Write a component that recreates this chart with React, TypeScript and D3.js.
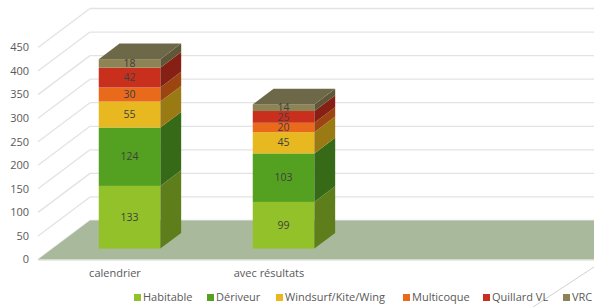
import * as d3 from "d3";

const categories = ["calendrier", "avec résultats"];
const seriesNames = ["Habitable", "Dériveur", "Windsurf/Kite/Wing", "Multicoque", "Quillard VL", "VRC"];
const habitable = [133, 99];
const deriveur = [124, 103];
const windsurf = [55, 45];
const multicoque = [30, 20];
const quillard = [42, 25];
const vrc = [18, 14];
const yTicks = [0, 50, 100, 150, 200, 250, 300, 350, 400, 450];

const FRONT = ["#92c12a", "#54a021", "#e8b820", "#e96a1a", "#c8301d", "#8e8355"];
const SIDE = ["#5e7e1b", "#366a16", "#9a7a13", "#9c4511", "#872014", "#5f5838"];
const TOP_VRC = "#6d6948";

const W = 594;
const H = 307;
const DX = 52; // depth of the floor, in px
const DY = 39;
const Z0 = 0.28; // bar front depth
const Z1 = 0.68; // bar back depth
const FONT = "'Open Sans', sans-serif";
const TEXT = "#595959";

export default function App() {
  const values = [habitable, deriveur, windsurf, multicoque, quillard, vrc];
  const rows = categories.map((c, i) => {
    const r: Record<string, any> = { cat: c };
    seriesNames.forEach((s, k) => (r[s] = values[k][i]));
    return r;
  });
  const stacked = d3.stack<any>().keys(seriesNames)(rows);

  const x = d3
    .scaleBand()
    .domain(categories)
    .range([38, 38 + 154 * categories.length])
    .paddingInner(0.6)
    .paddingOuter(0.3);
  const y = d3.scaleLinear().domain([0, 450]).range([259.5, 47.5]);

  const bw = x.bandwidth();
  const bdx = (Z1 - Z0) * DX;
  const bdy = (Z1 - Z0) * DY;
  const left = 38;
  const backLeft = left + DX;

  const pts = (p: number[][]) => p.map((q) => q.join(",")).join(" ");

  const legendX = [134, 207, 276, 403, 483, 563];

  return (
    <svg
      width={W}
      height={H}
      style={{ position: "absolute", left: 0, top: 0, background: "#fff" }}
      fontFamily={FONT}
    >
      {/* back wall + side wall grid */}
      {yTicks.map((t) => (
        <g key={t}>
          <line x1={backLeft} x2={W + 10} y1={y(t) - DY} y2={y(t) - DY} stroke="#e3e3e3" strokeWidth={1.3} />
          <line x1={left} x2={backLeft} y1={y(t)} y2={y(t) - DY} stroke="#e3e3e3" strokeWidth={1.3} />
        </g>
      ))}

      {/* floor */}
      <polygon
        points={pts([
          [left, y(0)],
          [backLeft, y(0) - DY],
          [W + 10, y(0) - DY],
          [W + 10, y(0)],
        ])}
        fill="#a9b99b"
      />
      <line x1={left} x2={W + 10} y1={y(0) + 1} y2={y(0) + 1} stroke="#e8ece4" strokeWidth={1} />

      {/* bars */}
      {categories.map((c, i) => {
        const x0 = x(c)! + Z0 * DX;
        const x1 = x0 + bw;
        return (
          <g key={c}>
            {stacked.map((s, k) => {
              const d = s[i];
              const yb = y(d[0]) - Z0 * DY;
              const yt = y(d[1]) - Z0 * DY;
              return (
                <g key={s.key}>
                  <rect x={x0} y={yt} width={bw} height={yb - yt} fill={FRONT[k]} />
                  <polygon
                    points={pts([
                      [x1, yb],
                      [x1, yt],
                      [x1 + bdx, yt - bdy],
                      [x1 + bdx, yb - bdy],
                    ])}
                    fill={SIDE[k]}
                  />
                  {k === stacked.length - 1 && (
                    <polygon
                      points={pts([
                        [x0, yt],
                        [x1, yt],
                        [x1 + bdx, yt - bdy],
                        [x0 + bdx, yt - bdy],
                      ])}
                      fill={TOP_VRC}
                    />
                  )}
                </g>
              );
            })}
            {stacked.map((s) => {
              const d = s[i];
              const ym = y((d[0] + d[1]) / 2) - Z0 * DY;
              return (
                <text
                  key={s.key}
                  x={x0 + bw / 2}
                  y={ym}
                  dy="0.35em"
                  textAnchor="middle"
                  fontSize={10.5}
                  fill="#404040"
                >
                  {d[1] - d[0]}
                </text>
              );
            })}
          </g>
        );
      })}

      {/* y axis labels */}
      {yTicks.map((t) => (
        <text key={t} x={29} y={y(t)} dy="0.35em" textAnchor="end" fontSize={11} fill={TEXT}>
          {t}
        </text>
      ))}

      {/* category labels */}
      {categories.map((c) => (
        <text key={c} x={x(c)! + bw / 2} y={277} textAnchor="middle" fontSize={11} fill={TEXT}>
          {c}
        </text>
      ))}

      {/* stray frame edge */}
      <line x1={533} y1={307} x2={594} y2={267} stroke="#d0d0d0" strokeWidth={1} />

      {/* legend */}
      {seriesNames.map((s, k) => (
        <g key={s} transform={`translate(${legendX[k]},0)`}>
          <rect x={0} y={294} width={7} height={7} fill={FRONT[k]} />
          <text x={9} y={301} fontSize={11} fill={TEXT}>
            {s}
          </text>
        </g>
      ))}
    </svg>
  );
}
